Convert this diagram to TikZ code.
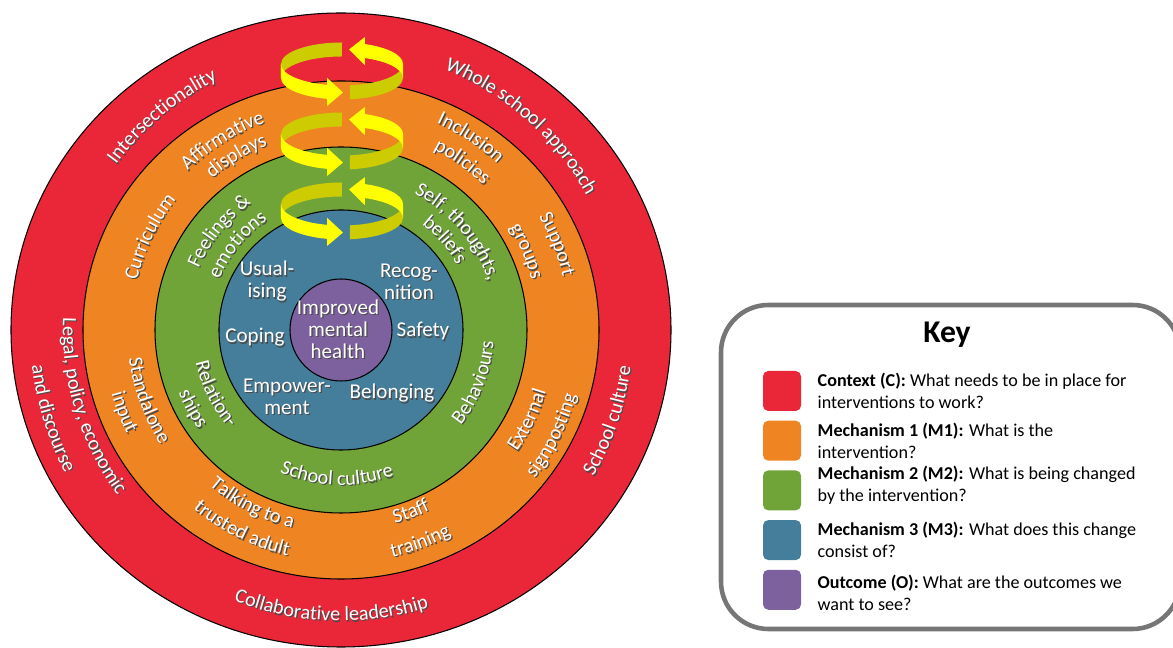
\documentclass[tikz,border=0pt]{standalone}
\usepackage{fontspec}
\setmainfont{Carlito}
\usetikzlibrary{decorations.text,positioning,calc}

\definecolor{ctxred}{HTML}{E92739}
\definecolor{mechorange}{HTML}{EF8422}
\definecolor{mechgreen}{HTML}{71A438}
\definecolor{mechblue}{HTML}{447E9B}
\definecolor{outpurple}{HTML}{7D609E}
\definecolor{arrowfront}{HTML}{FFFF00}
\definecolor{arrowback}{HTML}{CCCC00}
\definecolor{keygray}{HTML}{767676}
\definecolor{textshadow}{HTML}{4A4A4A}

\newcommand\ringfont{\fontsize{11.5}{12}\selectfont}
\newcommand\shadowed[1]{\leavevmode\rlap{\kern0.7pt\raisebox{-0.7pt}{\textcolor{textshadow}{#1}}}#1}
% curved label: text, start angle, end angle, radius
\newcommand\ringlabel[4]{%
	\path[ring text={#1}{textshadow}, xshift=0.7pt, yshift=-0.7pt] (#2:#4) arc[start angle=#2, end angle=#3, radius=#4];
	\path[ring text={#1}{white}] (#2:#4) arc[start angle=#2, end angle=#3, radius=#4];}

\tikzset{
  ring/.style={draw=black, line width=0.6pt, fill=#1},
  ring text/.style 2 args={decorate, decoration={text along path, text align=center, text color=#2, text={|\ringfont|#1}}},
  core text/.style={text=white, align=center, inner sep=0pt, font=\fontsize{12}{12.5}\selectfont},
  swatch/.style={fill=#1, rounded corners=3pt, minimum width=0.76cm, minimum height=0.8cm, inner sep=0pt},
  key text/.style={align=left, inner sep=0pt, font=\fontsize{10.3}{12.5}\selectfont},
}

\begin{document}
\begin{tikzpicture}[x=0.02cm,y=0.02cm]
	\useasboundingbox (-341,-318) rectangle (832,330);
	% rings, outside in
	\draw[ring=ctxred] (0,0) ellipse [x radius=330, y radius=317];
	\draw[ring=mechorange] (0,0) ellipse [x radius=258, y radius=249];
	\draw[ring=mechgreen] (0,0) ellipse [x radius=186, y radius=183];
	\draw[ring=mechblue] (0,0) ellipse [x radius=122, y radius=120];
	\draw[ring=outpurple] (0,0) circle [radius=51];

	% context (red)
	\ringlabel{Intersectionality}{180}{80}{279}
	\ringlabel{Whole school approach}{98.5}{-1.5}{280}
	\ringlabel{School culture}{-68.7}{31.3}{292}
	\ringlabel{Collaborative leadership}{218}{318}{291}
	\ringlabel{Legal, policy, economic}{147}{247}{278}
	\ringlabel{and discourse}{147}{247}{311}

	% mechanism 1 (orange)
	\ringlabel{Affirmative}{172}{72}{221}
	\ringlabel{displays}{171}{71}{199}
	\ringlabel{Curriculum}{204}{104}{210}
	\ringlabel{Standalone}{150}{250}{214}
	\ringlabel{input}{150.7}{250.7}{238}
	\ringlabel{Talking to a}{193}{293}{204}
	\ringlabel{trusted adult}{193.6}{293.6}{232}
	\ringlabel{Staff}{241}{341}{201}
	\ringlabel{training}{240.5}{340.5}{233}
	\ringlabel{External}{-75.7}{24.3}{214}
	\ringlabel{signposting}{-76.5}{23.5}{244}
	\ringlabel{Support}{71.6}{-28.4}{228}
	\ringlabel{groups}{73}{-27}{197}
	\ringlabel{Inclusion}{106}{6}{228}
	\ringlabel{policies}{104.2}{4.2}{203}

	% mechanism 2 (green)
	\ringlabel{Feelings {\&}}{191}{91}{155}
	\ringlabel{emotions}{190.6}{90.6}{132}
	\ringlabel{Relation-}{157}{257}{149}
	\ringlabel{ships}{158}{258}{174}
	\ringlabel{School culture}{218.4}{318.4}{155}
	\ringlabel{Behaviours}{-71.3}{28.7}{153}
	\ringlabel{Self, thoughts,}{90}{-10}{155}
	\ringlabel{beliefs}{91}{-9}{133}

	% mechanism 3 (blue) and outcome
	\node[core text] (usual) at (-74,48) {\shadowed{Usual-}\\\shadowed{ising}};
	\node[core text] (recog) at (68,48) {\shadowed{Recog-}\\\shadowed{nition}};
	\node[core text] (coping) at (-86,-8) {\shadowed{Coping}};
	\node[core text] (safety) at (82,-2) {\shadowed{Safety}};
	\node[core text] (empower) at (-54,-67) {\shadowed{Empower-}\\\shadowed{ment}};
	\node[core text] (belong) at (51,-64) {\shadowed{Belonging}};
	\node[core text] (outcome) at (-3,0) {\shadowed{Improved}\\\shadowed{mental}\\\shadowed{health}};

	% yellow spiral arrows
	\foreach \cy in {259,189,119}{
		\fill[arrowback] (1,\cy+28.5) arc[start angle=90, end angle=180, x radius=61, y radius=21.5] -- ++(0,-14) arc[start angle=180, end angle=90, x radius=61, y radius=21.5] -- cycle;
		\fill[arrowfront] (-60,\cy+7) arc[start angle=180, end angle=256, x radius=61, y radius=21.5] -- ++(0,-14) arc[start angle=256, end angle=180, x radius=61, y radius=21.5] -- cycle;
		\fill[arrowfront] (-13.8,\cy-6.9) -- (-13.8,\cy-34.9) -- (2,\cy-21.5) -- cycle;
		\fill[arrowback] (8.96,\cy-14.32) arc[start angle=-82.5, end angle=0, x radius=61, y radius=21.5] -- ++(0,-14) arc[start angle=0, end angle=-82.5, x radius=61, y radius=21.5] -- cycle;
		\fill[arrowfront] (62,\cy+7) arc[start angle=0, end angle=68, x radius=61, y radius=21.5] -- ++(0,-14) arc[start angle=68, end angle=0, x radius=61, y radius=21.5] -- cycle;
		\fill[arrowfront] (23.85,\cy+33.9) -- (23.85,\cy+5.9) -- (8,\cy+21.5) -- cycle;
	}

	% key
	\draw[keygray, line width=2.6pt, rounded corners=27pt] (380,25) rectangle (839,-299);
	\node[font=\fontsize{18}{20}\selectfont\bfseries] (keytitle) at (606,-5) {Key};
	\node[swatch=ctxred] (swC) at (441,-61) {};
	\node[swatch=mechorange, below=0.18cm of swC] (swMa) {};
	\node[swatch=mechgreen, below=0.18cm of swMa] (swMb) {};
	\node[swatch=mechblue, below=0.18cm of swMb] (swMc) {};
	\node[swatch=outpurple, below=0.18cm of swMc] (swO) {};
	\node[key text, right=0.32cm of swC] (txtC) {\textbf{Context (C):} What needs to be in place for\\interventions to work?};
	\node[key text, right=0.32cm of swMa] (txtMa) {\textbf{Mechanism 1 (M1):} What is the\\intervention?};
	\node[key text, right=0.32cm of swMb, yshift=0.1cm] (txtMb) {\textbf{Mechanism 2 (M2):} What is being changed\\by the intervention?};
	\node[key text, right=0.32cm of swMc] (txtMc) {\textbf{Mechanism 3 (M3):} What does this change\\consist of?};
	\node[key text, right=0.32cm of swO, yshift=-0.06cm] (txtO) {\textbf{Outcome (O):} What are the outcomes we\\want to see?};
\end{tikzpicture}
\end{document}
